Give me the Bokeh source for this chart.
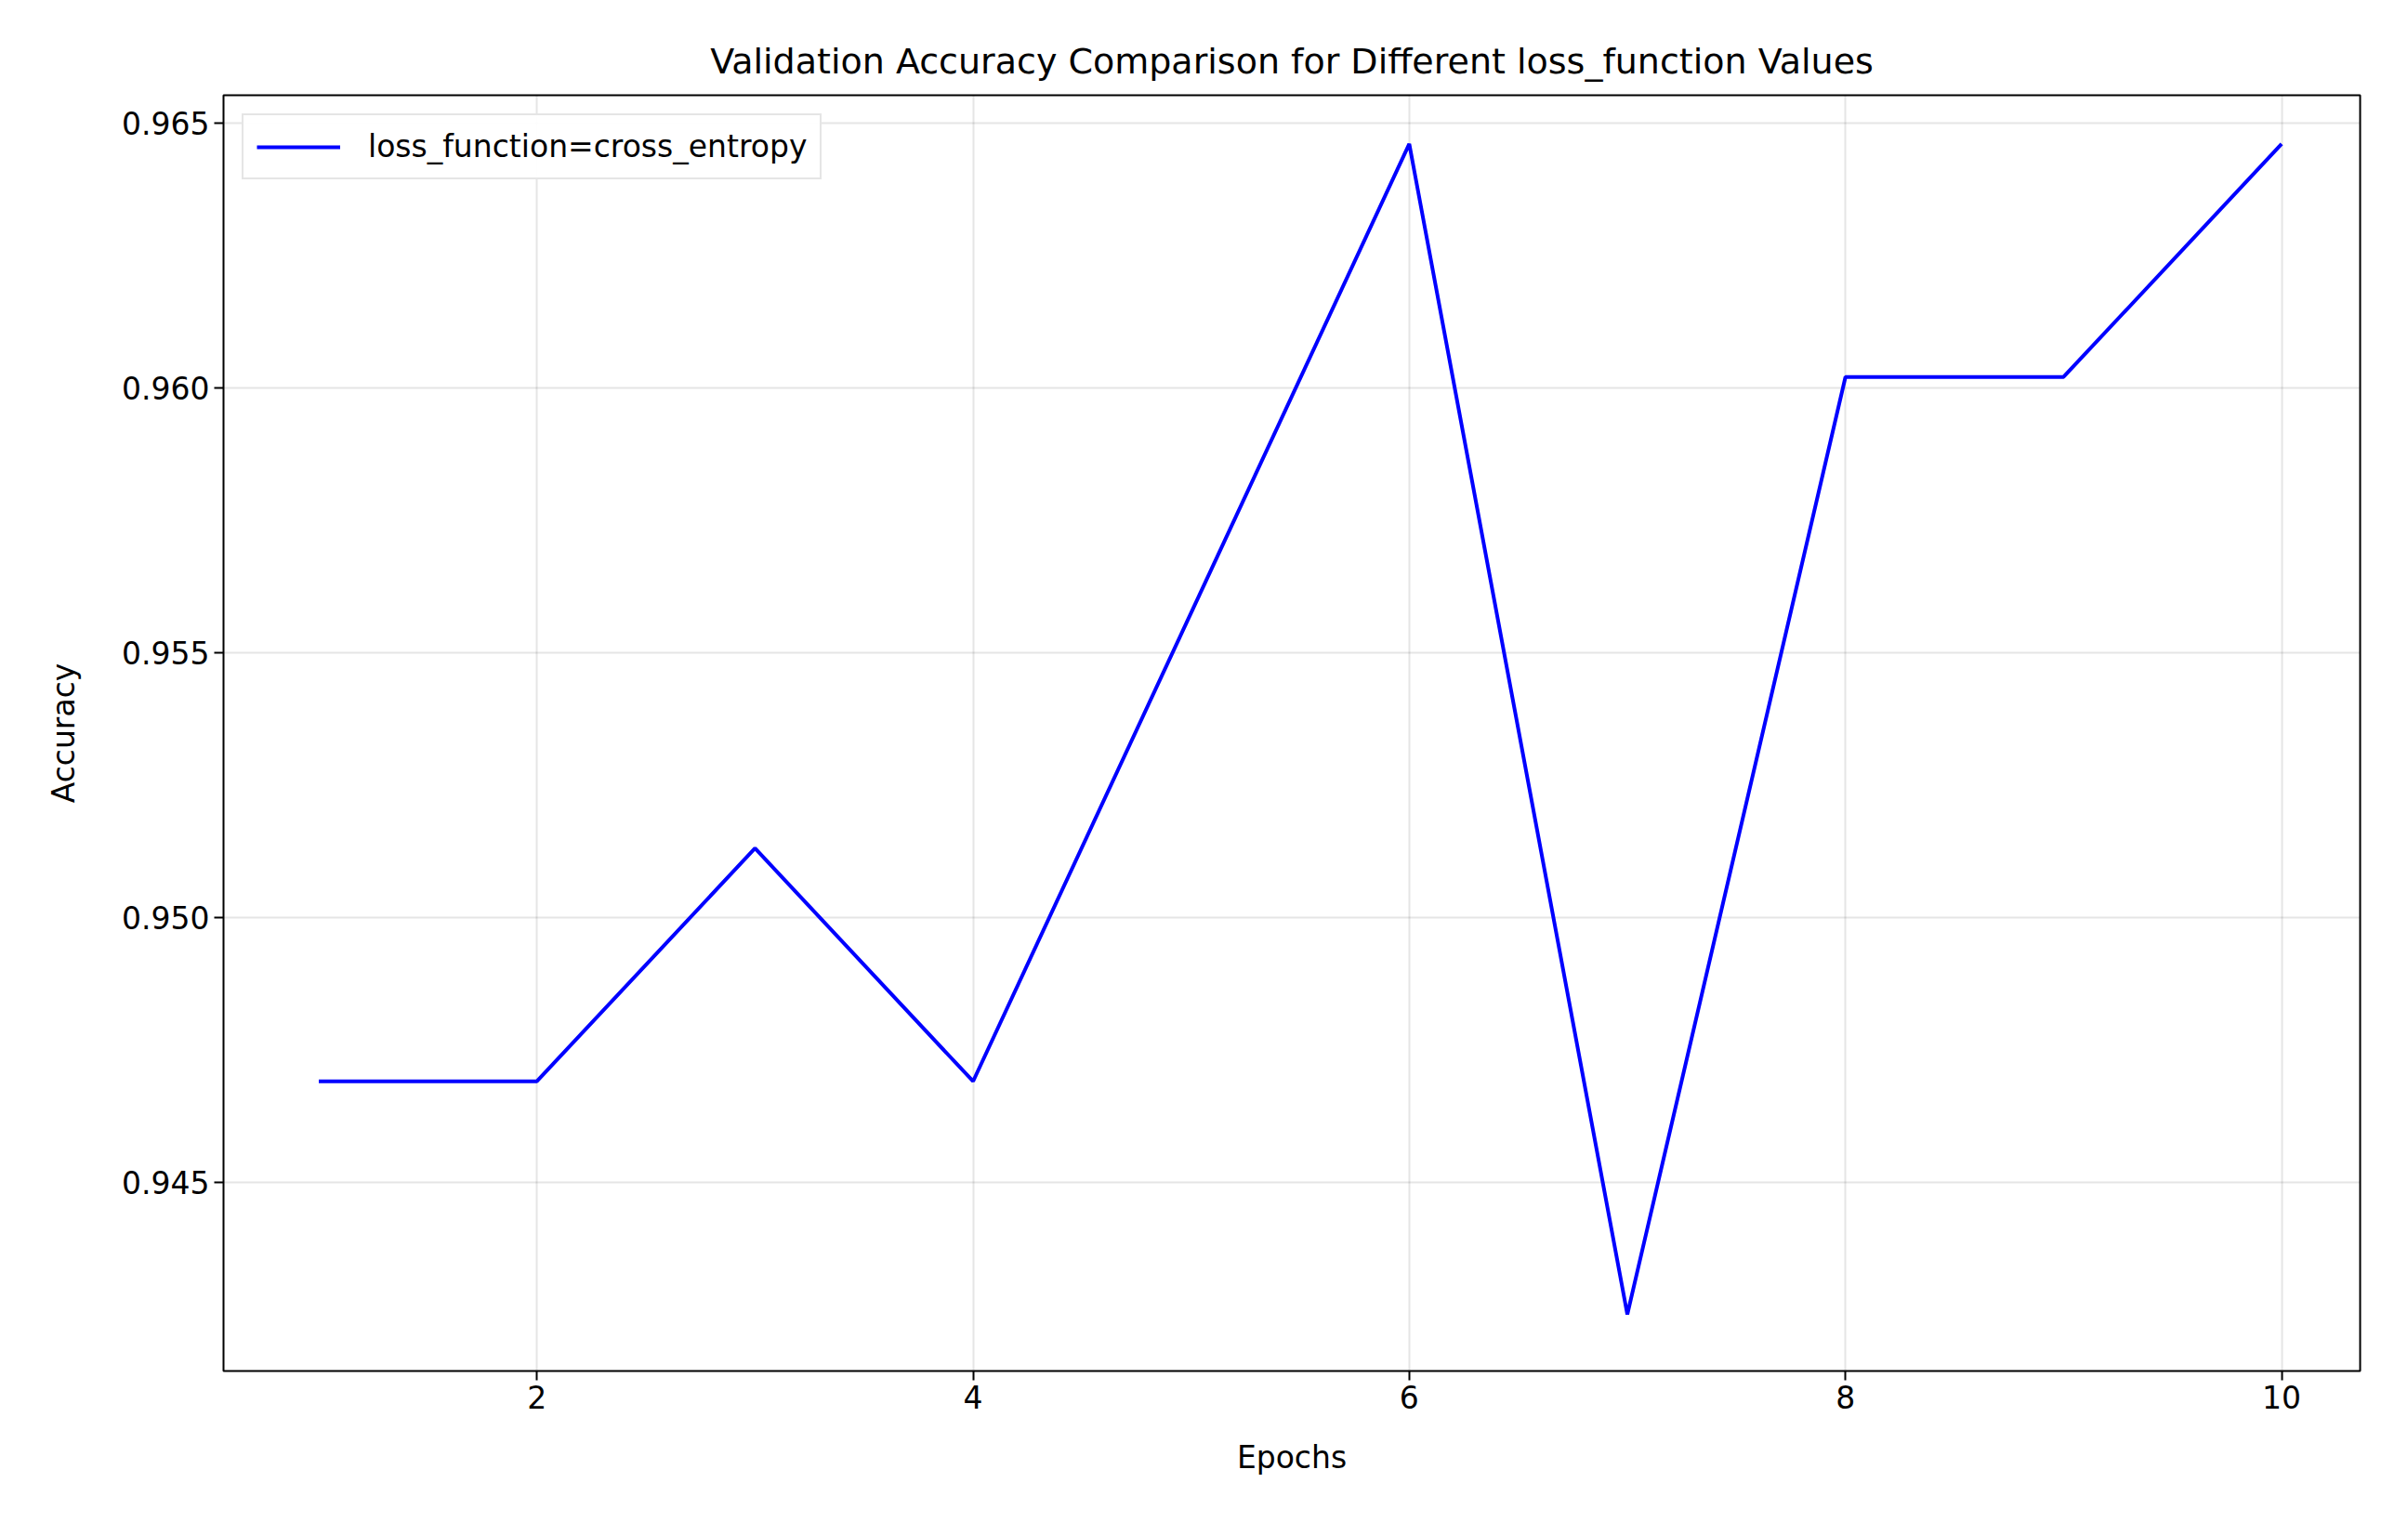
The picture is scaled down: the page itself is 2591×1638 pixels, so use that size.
from bokeh.plotting import figure
from bokeh.models import Range1d, Legend, LegendItem, FixedTicker, PrintfTickFormatter
from bokeh.embed import file_html
from bokeh.resources import INLINE

epochs = [1, 2, 3, 4, 5, 6, 7, 8, 9, 10]
accuracy = [0.9469, 0.9469, 0.9513, 0.9469, 0.95575, 0.9646, 0.9425, 0.9602, 0.9602, 0.9646]
series_label = "loss_function=cross_entropy"

FONT = "DejaVu Sans"

p = figure(width=2575, height=1620, output_backend="svg", toolbar_location=None,
           x_range=Range1d(0.563, 10.36), y_range=Range1d(0.94143, 0.96552),
           min_border_left=240, min_border_right=36, min_border_top=102, min_border_bottom=145)

p.title.text = "Validation Accuracy Comparison for Different loss_function Values"
p.title.text_font = FONT
p.title.text_font_size = "38px"
p.title.text_font_style = "normal"
p.title.text_color = "black"
p.title.align = "center"
p.title.standoff = 30

line = p.line(epochs, accuracy, line_color="blue", line_width=4)

p.xaxis.ticker = FixedTicker(ticks=[2, 4, 6, 8, 10])
p.yaxis.ticker = FixedTicker(ticks=[0.945, 0.950, 0.955, 0.960, 0.965])
p.yaxis.formatter = PrintfTickFormatter(format="%.3f")
p.xaxis.axis_label = "Epochs"
p.yaxis.axis_label = "Accuracy"
for ax in (p.xaxis[0], p.yaxis[0]):
    ax.axis_label_text_font = FONT
    ax.axis_label_text_font_size = "33px"
    ax.axis_label_text_font_style = "normal"
    ax.axis_label_text_color = "black"
    ax.major_label_text_font = FONT
    ax.major_label_text_font_size = "33px"
    ax.major_label_text_color = "black"
    ax.minor_tick_line_color = None
    ax.major_tick_in = 0
    ax.major_tick_out = 10
    ax.major_tick_line_width = 2
    ax.axis_line_color = None
p.xaxis.axis_label_standoff = 30
p.yaxis.axis_label_standoff = 40

p.grid.grid_line_color = "black"
p.grid.grid_line_alpha = 0.1
p.grid.grid_line_width = 2
p.outline_line_color = "black"
p.outline_line_width = 2

legend = Legend(items=[LegendItem(label=series_label, renderers=[line])], location="top_left")
legend.label_text_font = FONT
legend.label_text_font_size = "33px"
legend.label_text_color = "black"
legend.label_standoff = 30
legend.glyph_width = 90
legend.border_line_color = "#cccccc"
legend.border_line_width = 2
legend.margin = 20
legend.padding = 14
p.add_layout(legend)

open("out.html", "w").write(file_html(p, INLINE))
